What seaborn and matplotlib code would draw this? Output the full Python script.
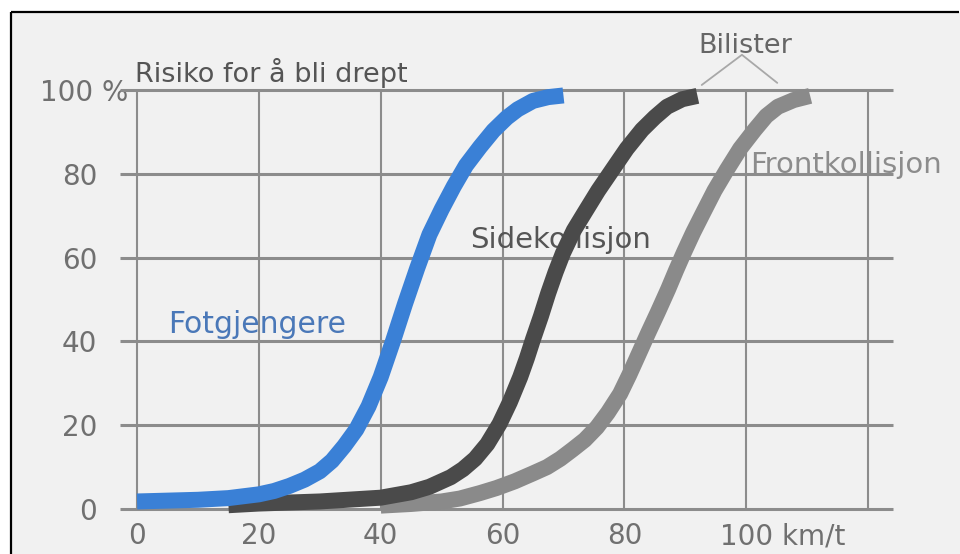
import matplotlib
matplotlib.use("Agg")
import matplotlib.pyplot as plt
import seaborn as sns
import pandas as pd
from matplotlib.patches import Rectangle
from matplotlib.lines import Line2D
from matplotlib.transforms import ScaledTranslation

# ---- data ----
speed_fot = [0, 5, 10, 15, 20, 22.5, 25, 27.5, 30, 32, 34, 36, 38, 40, 42, 44, 46, 48,
             50, 52, 54, 56.3, 58.5, 60.7, 62.5, 65, 67.5, 70]
risk_fot = [1.8, 2.0, 2.2, 2.6, 3.5, 4.3, 5.5, 7, 9, 11.5, 15, 19, 24.5, 31.5, 40, 49, 57.5, 65.5,
            71.5, 77, 82, 86.4, 90.3, 93.4, 95.4, 97.4, 98.3, 98.7]

speed_side = [15, 20, 30, 40, 45, 48, 51.5, 53.5, 55.5, 57.5, 59.5, 61.2, 62.9, 64, 65, 66.3,
              67.5, 68.7, 69.9, 71.7, 73.5, 75.7, 78, 80.4, 82.9, 85, 87, 89.5, 92]
risk_side = [0.9, 1.3, 1.8, 2.7, 4, 5.3, 7.6, 9.5, 12, 15.5, 20.3, 25.5, 31.5, 36, 40.5, 46,
             51.5, 56.5, 61, 66.5, 70.8, 76, 80.9, 86, 90.5, 93.5, 96, 97.8, 98.6]

speed_front = [40, 45, 50, 53, 56.3, 59, 62, 65, 67.3, 69.5, 71.5, 73.5, 75.5, 77.3, 79.3, 80.8,
               82.2, 83.9, 85.5, 87.2, 88.5, 89.8, 91.3, 92.9, 94.8, 96.8, 99, 101.4, 103.3,
               105.2, 107.8, 110.5]
risk_front = [0.8, 1.2, 1.8, 2.5, 3.8, 5, 6.6, 8.5, 10, 12, 14.2, 16.5, 19.5, 23, 27.5, 32,
              36.5, 42, 47, 52.5, 57, 61.3, 66, 70.6, 76, 80.9, 86, 90.5, 93.8,
              96, 97.6, 98.6]

x_ticks = [0, 20, 40, 60, 80, 100, 120]
x_ticklabels = ["0", "20", "40", "60", "80", "100 km/t"]
y_ticks = [0, 20, 40, 60, 80, 100]
y_ticklabels = ["0", "20", "40", "60", "80", "100 %"]

groups = ["Frontkollisjon", "Sidekollisjon", "Fotgjengere"]
colors = {"Frontkollisjon": "#8a8a8a", "Sidekollisjon": "#4a4a4a", "Fotgjengere": "#3a80d6"}

df = pd.concat([
    pd.DataFrame({"fart": speed_front, "risiko": risk_front, "gruppe": "Frontkollisjon"}),
    pd.DataFrame({"fart": speed_side, "risiko": risk_side, "gruppe": "Sidekollisjon"}),
    pd.DataFrame({"fart": speed_fot, "risiko": risk_fot, "gruppe": "Fotgjengere"}),
], ignore_index=True)

# ---- figure ----
sns.set_style("white")
plt.rcParams["font.family"] = ["DejaVu Sans"]

W, H = 960, 554
fig = plt.figure(figsize=(W / 100, H / 100), dpi=100, facecolor="white")

# panel background and border (left and top edges only)
fig.add_artist(Rectangle((10.5 / W, -0.05), 1.1, 1.05 - 12 / H, transform=fig.transFigure,
                         facecolor="#f1f1f1", edgecolor="none", lw=0, zorder=-2))
fig.add_artist(Line2D([11 / W, 11 / W], [-0.05, 1 - 12 / H], transform=fig.transFigure,
                      color="black", lw=1.6, zorder=-1, solid_capstyle="butt"))
fig.add_artist(Line2D([11 / W, 0.999], [1 - 12 / H, 1 - 12 / H], transform=fig.transFigure,
                      color="black", lw=1.6, zorder=-1, solid_capstyle="butt"))

ax = fig.add_axes([120 / W, 1 - 509 / H, (893 - 120) / W, (509 - 90) / H])
ax.set_facecolor("none")
ax.set_xlim(-2.8, 124.1)
ax.set_ylim(0, 100)
for s in ax.spines.values():
    s.set_visible(False)

grid_c = "#8c8c8c"
ax.hlines(y_ticks, -2.8, 124.1, colors=grid_c, lw=2.2, zorder=1, clip_on=False)
ax.vlines(x_ticks, 0, 100, colors=grid_c, lw=1.5, zorder=1, clip_on=False)

# labels in plot (under curves)
ax.text(-0.3, 101.9, "Risiko for å bli drept", fontsize=19.5, color="#555555",
        ha="left", va="baseline", zorder=1.5, clip_on=False)
ax.text(54.7, 62.3, "Sidekollisjon", fontsize=21, color="#555555",
        ha="left", va="baseline", zorder=1.5)
ax.text(100.6, 80.2, "Frontkollisjon", fontsize=21, color="#8c8c8c",
        ha="left", va="baseline", zorder=1.5, clip_on=False)
ax.text(5.1, 42.0, "Fotgjengere", fontsize=21.5, color="#4a78b8",
        ha="left", va="baseline", zorder=1.5)
ax.text(99.8, 108.8, "Bilister", fontsize=19.5, color="#666666",
        ha="center", va="baseline", zorder=1.5, clip_on=False)
ax.plot([92.7, 99.3, 105.1], [101.2, 108.4, 101.7], color="#a8a8a8", lw=1.3,
        zorder=1.5, clip_on=False)

sns.lineplot(data=df, x="fart", y="risiko", hue="gruppe", hue_order=groups,
             palette=colors, sort=False, estimator=None, legend=False,
             lw=11.5, ax=ax)
for ln in ax.get_lines()[-3:]:
    ln.set_clip_on(False)
    ln.set_solid_capstyle("butt")
    ln.set_solid_joinstyle("round")
    ln.set_zorder(2)

ax.set_xlabel("")
ax.set_ylabel("")
ax.set_xticks(x_ticks[:-1])
ax.set_xticklabels(x_ticklabels)
ax.set_yticks(y_ticks)
ax.set_yticklabels(y_ticklabels)
ax.tick_params(axis="both", length=0, labelsize=20, labelcolor="#707070")
ax.tick_params(axis="x", pad=9.5)
ax.tick_params(axis="y", pad=16.5)

# "100 km/t": keep "100" centred on its tick
lab = ax.get_xticklabels()[-1]
lab.set_horizontalalignment("left")
lab.set_transform(lab.get_transform() + ScaledTranslation(-26.5 / 100, 0, fig.dpi_scale_trans))
# "100 %": shift to the right as in the reference
lab = ax.get_yticklabels()[-1]
lab.set_transform(lab.get_transform() + ScaledTranslation(31 / 100, 0, fig.dpi_scale_trans))

fig.savefig("out.png", dpi=100)
